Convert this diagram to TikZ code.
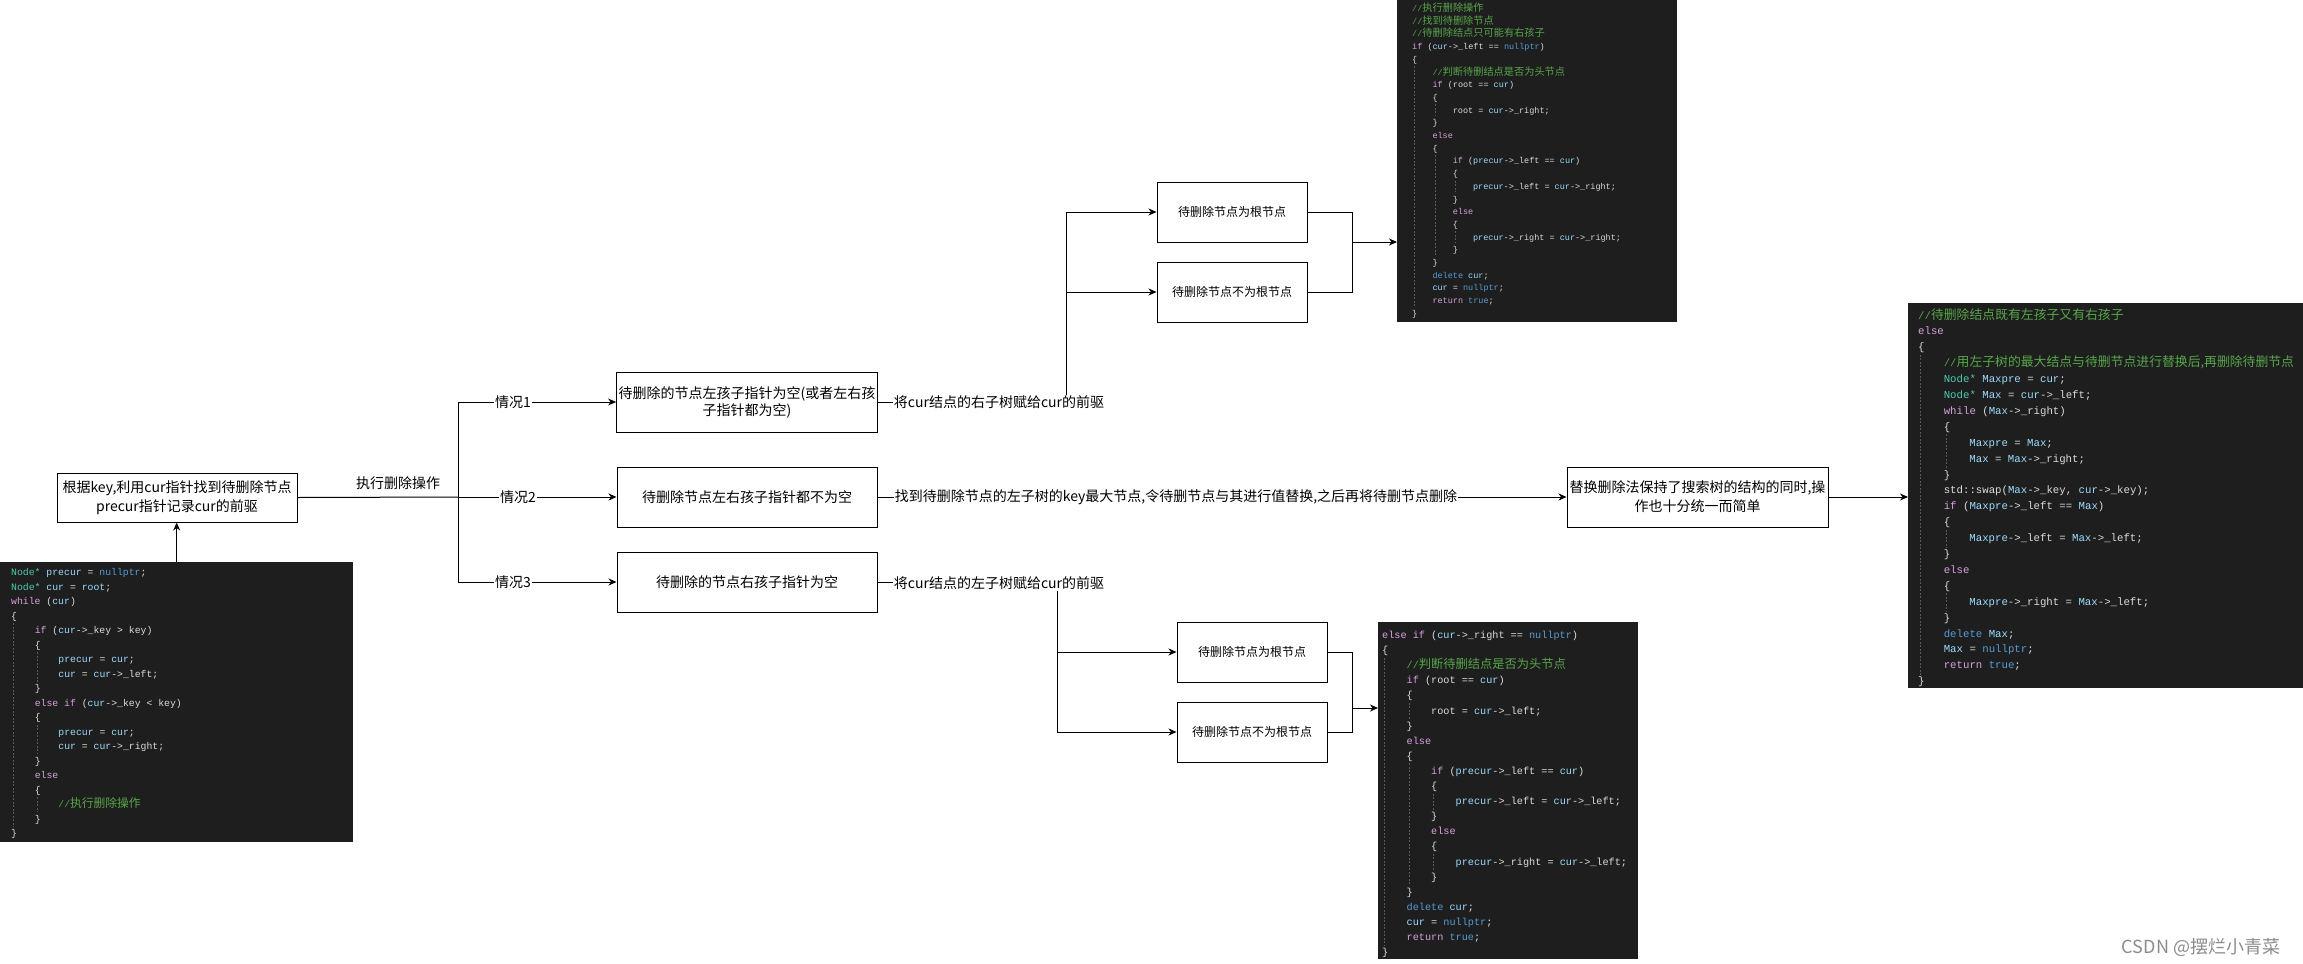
\documentclass[tikz,border=0pt]{standalone}
\usepackage{fontspec}
\setmainfont{Noto Sans CJK SC}
\newfontfamily\cjkc{Noto Sans CJK SC}[Scale=1.2]
\setmonofont{Liberation Mono}
\usetikzlibrary{arrows.meta}
\definecolor{codebgc}{HTML}{1E1E1E}
\definecolor{plainc}{HTML}{DCDCDC}
\definecolor{kwc}{HTML}{D8A0DF}
\definecolor{blc}{HTML}{569CD6}
\definecolor{tyc}{HTML}{4EC9B0}
\definecolor{vrc}{HTML}{9CDCFE}
\definecolor{cmc}{HTML}{57A64A}
\definecolor{guidec}{HTML}{5A5A5A}
\newcommand\ckw[1]{\textcolor{kwc}{#1}}
\newcommand\cbl[1]{\textcolor{blc}{#1}}
\newcommand\cty[1]{\textcolor{tyc}{#1}}
\newcommand\cvr[1]{\textcolor{vrc}{#1}}
\newcommand\ccm[1]{\textcolor{cmc}{#1}}
\newcounter{codelnc}
\newcommand\codeln[3]{\stepcounter{codelnc}\node[codetxt] (cl\arabic{codelnc}) at ({\cX+#1*\cI},{\cY+#2*\cL}) {#3};}
\newcommand\codegd[3]{\draw[guide] ({\cX+#1*\cI+2.5},{\cY+#2*\cL+4}) -- ({\cX+#1*\cI+2.5},{\cY+#3*\cL-10});}
\tikzset{
  codetxt/.style={anchor=base west, inner sep=0pt, text=plainc, font=\ttfamily\fontsize{\cF pt}{\cF pt}\selectfont},
  codebox/.style={fill=codebgc, draw=none, anchor=north west, inner sep=0pt},
  guide/.style={draw=guidec, dashed, dash pattern=on 2pt off 1.5pt, line width=0.6pt},
  box/.style={draw=black, line width=1pt, fill=white, align=center, inner sep=2pt, font=\fontsize{14pt}{17pt}\selectfont},
  sbox/.style={draw=black, line width=1pt, fill=white, align=center, minimum width=150pt, minimum height=60pt, font=\fontsize{12pt}{14pt}\selectfont},
  ln/.style={draw=black, line width=1pt},
  arr/.style={draw=black, line width=1pt, -{Stealth[length=8pt,width=7pt,inset=2.5pt]}},
  lbl/.style={fill=white, inner sep=1pt, font=\fontsize{14pt}{16pt}\selectfont},
}
\begin{document}
\begin{tikzpicture}[x=1pt,y=-1pt]
\useasboundingbox (0,0) rectangle (2303,964);
\fill[white] (0,0) rectangle (2303,964);

% ---------- code block backgrounds ----------
\node[codebox, minimum width=353pt, minimum height=280pt] (code1) at (0,562) {};
\node[codebox, minimum width=280pt, minimum height=322pt] (code2) at (1397,0) {};
\node[codebox, minimum width=260pt, minimum height=337pt] (code3) at (1378,622) {};
\node[codebox, minimum width=395pt, minimum height=385pt] (code4) at (1908,303) {};

% ---------- code 1 ----------
\def\cX{11}\def\cY{575.5}\def\cL{14.5}\def\cI{23.6}\def\cF{9.8}
\codegd{0}{3}{18}\codegd{1}{5}{8}\codegd{1}{10}{13}\codegd{1}{15}{17}
\codeln{0}{0}{\cty{Node*} \cvr{precur} = \cbl{nullptr};}
\codeln{0}{1}{\cty{Node*} \cvr{cur} = \cvr{root};}
\codeln{0}{2}{\ckw{while} (\cvr{cur})}
\codeln{0}{3}{\{}
\codeln{1}{4}{\ckw{if} (\cvr{cur}->\_key > key)}
\codeln{1}{5}{\{}
\codeln{2}{6}{\cvr{precur} = \cvr{cur};}
\codeln{2}{7}{\cvr{cur} = \cvr{cur}->\_left;}
\codeln{1}{8}{\}}
\codeln{1}{9}{\ckw{else} \ckw{if} (\cvr{cur}->\_key < key)}
\codeln{1}{10}{\{}
\codeln{2}{11}{\cvr{precur} = \cvr{cur};}
\codeln{2}{12}{\cvr{cur} = \cvr{cur}->\_right;}
\codeln{1}{13}{\}}
\codeln{1}{14}{\ckw{else}}
\codeln{1}{15}{\{}
\codeln{2}{16}{\ccm{//{\cjkc 执行删除操作}}}
\codeln{1}{17}{\}}
\codeln{0}{18}{\}}

% ---------- code 2 ----------
\def\cX{1412}\def\cY{11.5}\def\cL{12.7}\def\cI{20.3}\def\cF{8.5}
\codegd{0}{4}{24}\codegd{1}{7}{9}\codegd{1}{11}{20}\codegd{2}{13}{15}\codegd{2}{17}{19}
\codeln{0}{0}{\ccm{//{\cjkc 执行删除操作}}}
\codeln{0}{1}{\ccm{//{\cjkc 找到待删除节点}}}
\codeln{0}{2}{\ccm{//{\cjkc 待删除结点只可能有右孩子}}}
\codeln{0}{3}{\ckw{if} (\cvr{cur}->\_left == \cbl{nullptr})}
\codeln{0}{4}{\{}
\codeln{1}{5}{\ccm{//{\cjkc 判断待删结点是否为头节点}}}
\codeln{1}{6}{\ckw{if} (root == \cvr{cur})}
\codeln{1}{7}{\{}
\codeln{2}{8}{root = \cvr{cur}->\_right;}
\codeln{1}{9}{\}}
\codeln{1}{10}{\ckw{else}}
\codeln{1}{11}{\{}
\codeln{2}{12}{\ckw{if} (\cvr{precur}->\_left == \cvr{cur})}
\codeln{2}{13}{\{}
\codeln{3}{14}{\cvr{precur}->\_left = \cvr{cur}->\_right;}
\codeln{2}{15}{\}}
\codeln{2}{16}{\ckw{else}}
\codeln{2}{17}{\{}
\codeln{3}{18}{\cvr{precur}->\_right = \cvr{cur}->\_right;}
\codeln{2}{19}{\}}
\codeln{1}{20}{\}}
\codeln{1}{21}{\cbl{delete} \cvr{cur};}
\codeln{1}{22}{\cvr{cur} = \cbl{nullptr};}
\codeln{1}{23}{\ckw{return} \cbl{true};}
\codeln{0}{24}{\}}

% ---------- code 3 ----------
\def\cX{1382}\def\cY{638.5}\def\cL{15.1}\def\cI{24.5}\def\cF{10.2}
\codegd{0}{1}{21}\codegd{1}{4}{6}\codegd{1}{8}{17}\codegd{2}{10}{12}\codegd{2}{14}{16}
\codeln{0}{0}{\ckw{else} \ckw{if} (\cvr{cur}->\_right == \cbl{nullptr})}
\codeln{0}{1}{\{}
\codeln{1}{2}{\ccm{//{\cjkc 判断待删结点是否为头节点}}}
\codeln{1}{3}{\ckw{if} (root == \cvr{cur})}
\codeln{1}{4}{\{}
\codeln{2}{5}{root = \cvr{cur}->\_left;}
\codeln{1}{6}{\}}
\codeln{1}{7}{\ckw{else}}
\codeln{1}{8}{\{}
\codeln{2}{9}{\ckw{if} (\cvr{precur}->\_left == \cvr{cur})}
\codeln{2}{10}{\{}
\codeln{3}{11}{\cvr{precur}->\_left = \cvr{cur}->\_left;}
\codeln{2}{12}{\}}
\codeln{2}{13}{\ckw{else}}
\codeln{2}{14}{\{}
\codeln{3}{15}{\cvr{precur}->\_right = \cvr{cur}->\_left;}
\codeln{2}{16}{\}}
\codeln{1}{17}{\}}
\codeln{1}{18}{\cbl{delete} \cvr{cur};}
\codeln{1}{19}{\cvr{cur} = \cbl{nullptr};}
\codeln{1}{20}{\ckw{return} \cbl{true};}
\codeln{0}{21}{\}}

% ---------- code 4 ----------
\def\cX{1918}\def\cY{319}\def\cL{15.9}\def\cI{25.6}\def\cF{10.7}
\codegd{0}{2}{23}\codegd{1}{7}{10}\codegd{1}{13}{15}\codegd{1}{17}{19}
\codeln{0}{0}{\ccm{//{\cjkc 待删除结点既有左孩子又有右孩子}}}
\codeln{0}{1}{\ckw{else}}
\codeln{0}{2}{\{}
\codeln{1}{3}{\ccm{//{\cjkc 用左子树的最大结点与待删节点进行替换后,再删除待删节点}}}
\codeln{1}{4}{\cty{Node*} \cvr{Maxpre} = \cvr{cur};}
\codeln{1}{5}{\cty{Node*} \cvr{Max} = \cvr{cur}->\_left;}
\codeln{1}{6}{\ckw{while} (\cvr{Max}->\_right)}
\codeln{1}{7}{\{}
\codeln{2}{8}{\cvr{Maxpre} = \cvr{Max};}
\codeln{2}{9}{\cvr{Max} = \cvr{Max}->\_right;}
\codeln{1}{10}{\}}
\codeln{1}{11}{std::swap(\cvr{Max}->\_key, \cvr{cur}->\_key);}
\codeln{1}{12}{\ckw{if} (\cvr{Maxpre}->\_left == \cvr{Max})}
\codeln{1}{13}{\{}
\codeln{2}{14}{\cvr{Maxpre}->\_left = \cvr{Max}->\_left;}
\codeln{1}{15}{\}}
\codeln{1}{16}{\ckw{else}}
\codeln{1}{17}{\{}
\codeln{2}{18}{\cvr{Maxpre}->\_right = \cvr{Max}->\_left;}
\codeln{1}{19}{\}}
\codeln{1}{20}{\cbl{delete} \cvr{Max};}
\codeln{1}{21}{\cvr{Max} = \cbl{nullptr};}
\codeln{1}{22}{\ckw{return} \cbl{true};}
\codeln{0}{23}{\}}

% ---------- flow boxes ----------
\node[box, minimum width=240pt, minimum height=49pt, font=\fontsize{14pt}{19pt}\selectfont] (A) at (177,497.5) {根据key,利用cur指针找到待删除节点\\precur指针记录cur的前驱};
\node[box, minimum width=260pt, minimum height=60pt] (B1) at (747,402) {待删除的节点左孩子指针为空(或者左右孩\\子指针都为空)};
\node[box, minimum width=260pt, minimum height=60pt] (B2) at (747,497) {待删除节点左右孩子指针都不为空};
\node[box, minimum width=260pt, minimum height=60pt] (B3) at (747,582) {待删除的节点右孩子指针为空};
\node[sbox] (C1) at (1232,212) {待删除节点为根节点};
\node[sbox] (C2) at (1232,292) {待删除节点不为根节点};
\node[sbox] (D1) at (1252,652) {待删除节点为根节点};
\node[sbox] (D2) at (1252,732) {待删除节点不为根节点};
\node[box, minimum width=261pt, minimum height=60pt, font=\fontsize{14pt}{19pt}\selectfont] (E) at (1697.5,497) {替换删除法保持了搜索树的结构的同时,操\\作也十分统一而简单};

% ---------- connectors ----------
\draw[arr] (code1.north) -- (code1.north |- A.south);
\coordinate (J) at (458,497);
\draw[ln] (A.east) -- (J);
\draw[arr] (J) |- (B1.west);
\draw[arr] (J) -- (B2.west);
\draw[arr] (J) |- (B3.west);

\coordinate (K1) at (1066,402);
\draw[ln] (B1.east) -- (K1);
\draw[arr] (K1) |- (C1.west);
\draw[arr] (K1) |- (C2.west);
\coordinate (M1) at (1352,242);
\draw[ln] (C1.east) -| (M1);
\draw[ln] (C2.east) -| (M1);
\draw[arr] (M1) -- (M1 -| code2.west);

\coordinate (K2) at (1057,582);
\draw[ln] (B3.east) -- (K2);
\draw[arr] (K2) |- (D1.west);
\draw[arr] (K2) |- (D2.west);
\coordinate (M2) at (1352,708);
\draw[ln] (D1.east) -| (M2);
\draw[ln] (D2.east) -| (M2);
\draw[arr] (M2) -- (M2 -| code3.west);

\draw[arr] (B2.east) -- (E.west);
\draw[arr] (E.east) -- (E.east -| code4.west);

% ---------- labels ----------
\node[lbl, fill=none] (lexec) at (398,483) {执行删除操作};
\node[lbl] (lc1) at (513,402) {情况1};
\node[lbl] (lc2) at (518,497) {情况2};
\node[lbl] (lc3) at (513,582) {情况3};
\node[lbl] (lr1) at (999,402) {将cur结点的右子树赋给cur的前驱};
\node[lbl] (lr3) at (999,583) {将cur结点的左子树赋给cur的前驱};
\node[lbl] (lr2) at (1176,497) {找到待删除节点的左子树的key最大节点,令待删节点与其进行值替换,之后再将待删节点删除};

% ---------- watermark ----------
\node[text=black!45, inner sep=0pt, font=\fontsize{18pt}{20pt}\selectfont] (wm) at (2201,947) {CSDN @摆烂小青菜};
\end{tikzpicture}
\end{document}
